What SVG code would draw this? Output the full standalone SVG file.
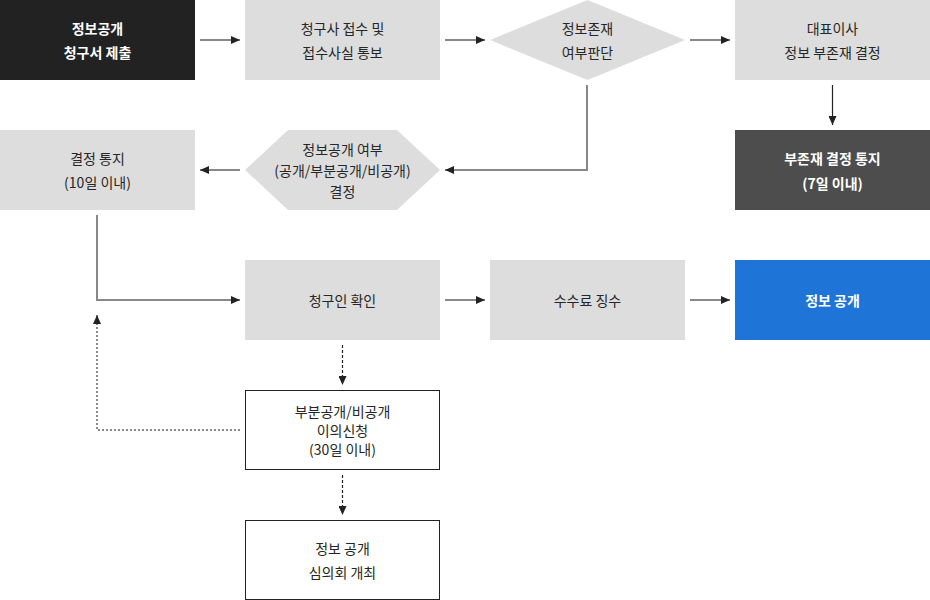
<svg xmlns="http://www.w3.org/2000/svg" width="930" height="600" viewBox="0 0 930 600">
<defs>
<style>
text{font-family:"Noto Sans CJK KR","Noto Sans",sans-serif;font-size:14px;text-anchor:middle;dominant-baseline:central;fill:#262626}
.w{fill:#fff;font-weight:bold}
.g{fill:#dddddd}
.ln{fill:none;stroke:#888;stroke-width:2}
.bl{fill:none;stroke:#222;stroke-width:1.2}
.dk{fill:none;stroke:#222;stroke-width:1.2;stroke-dasharray:3 2}
.dg{fill:none;stroke:#888;stroke-width:2;stroke-dasharray:2 2}
</style>
<marker id="ah" viewBox="0 0 9 8" markerWidth="9" markerHeight="8" refX="9" refY="4" orient="auto" markerUnits="userSpaceOnUse">
<path d="M0,0 L9,4 L0,8 z" fill="#222"/>
</marker>
</defs>
<rect width="930" height="600" fill="#fff"/>
<g id="connectors">
<line class="ln" x1="200" y1="40" x2="240" y2="40" marker-end="url(#ah)"/>
<line class="ln" x1="445" y1="40" x2="485" y2="40" marker-end="url(#ah)"/>
<line class="ln" x1="690" y1="40" x2="730" y2="40" marker-end="url(#ah)"/>
<polyline class="ln" points="587,85 587,170 445,170" marker-end="url(#ah)"/>
<line class="bl" x1="832.5" y1="85" x2="832.5" y2="125" marker-end="url(#ah)"/>
<line class="ln" x1="240" y1="170" x2="200" y2="170" marker-end="url(#ah)"/>
<polyline class="ln" points="97,215 97,300 240,300" marker-end="url(#ah)"/>
<line class="ln" x1="445" y1="300" x2="485" y2="300" marker-end="url(#ah)"/>
<line class="ln" x1="690" y1="300" x2="730" y2="300" marker-end="url(#ah)"/>
<line class="dk" x1="342.5" y1="345" x2="342.5" y2="385" marker-end="url(#ah)"/>
<line class="dk" x1="342.5" y1="475" x2="342.5" y2="515" marker-end="url(#ah)"/>
<polyline class="dg" points="240,430 97,430 97,315" marker-end="url(#ah)"/>
</g>
<g id="n1"><rect x="0" y="0" width="195" height="80" fill="#222"/><text class="w" x="97.5" y="28">정보공개</text><text class="w" x="97.5" y="52">청구서 제출</text></g>
<g id="n2"><rect class="g" x="245" y="0" width="195" height="80"/><text x="342.5" y="28">청구사 접수 및</text><text x="342.5" y="52">접수사실 통보</text></g>
<g id="n3"><polygon class="g" points="490,40 587.5,0 685,40 587.5,80"/><text x="587.5" y="28">정보존재</text><text x="587.5" y="52">여부판단</text></g>
<g id="n4"><rect class="g" x="735" y="0" width="195" height="80"/><text x="832.5" y="28">대표이사</text><text x="832.5" y="52">정보 부존재 결정</text></g>
<g id="n5"><rect class="g" x="0" y="130" width="195" height="80"/><text x="97.5" y="158">결정 통지</text><text x="97.5" y="182">(10일 이내)</text></g>
<g id="n6"><polygon class="g" points="245,170 288,130 397,130 440,170 397,210 288,210"/><text x="342.5" y="149">정보공개 여부</text><text x="342.5" y="170">(공개/부분공개/비공개)</text><text x="342.5" y="191">결정</text></g>
<g id="n7"><rect x="735" y="130" width="195" height="80" fill="#4d4d4d"/><text class="w" x="832.5" y="158">부존재 결정 통지</text><text class="w" x="832.5" y="183">(7일 이내)</text></g>
<g id="n8"><rect class="g" x="245" y="260" width="195" height="80"/><text x="342.5" y="300">청구인 확인</text></g>
<g id="n9"><rect class="g" x="490" y="260" width="195" height="80"/><text x="587.5" y="300">수수료 징수</text></g>
<g id="n10"><rect x="735" y="260" width="195" height="80" fill="#1f74d7"/><text class="w" x="832.5" y="300">정보 공개</text></g>
<g id="n11"><rect x="245.5" y="390.5" width="194" height="79" fill="#fff" stroke="#222" stroke-width="1"/><text x="342.5" y="411">부분공개/비공개</text><text x="342.5" y="430">이의신청</text><text x="342.5" y="449">(30일 이내)</text></g>
<g id="n12"><rect x="245.5" y="520.5" width="194" height="79" fill="#fff" stroke="#222" stroke-width="1"/><text x="342.5" y="548">정보 공개</text><text x="342.5" y="572">심의회 개최</text></g>
</svg>
